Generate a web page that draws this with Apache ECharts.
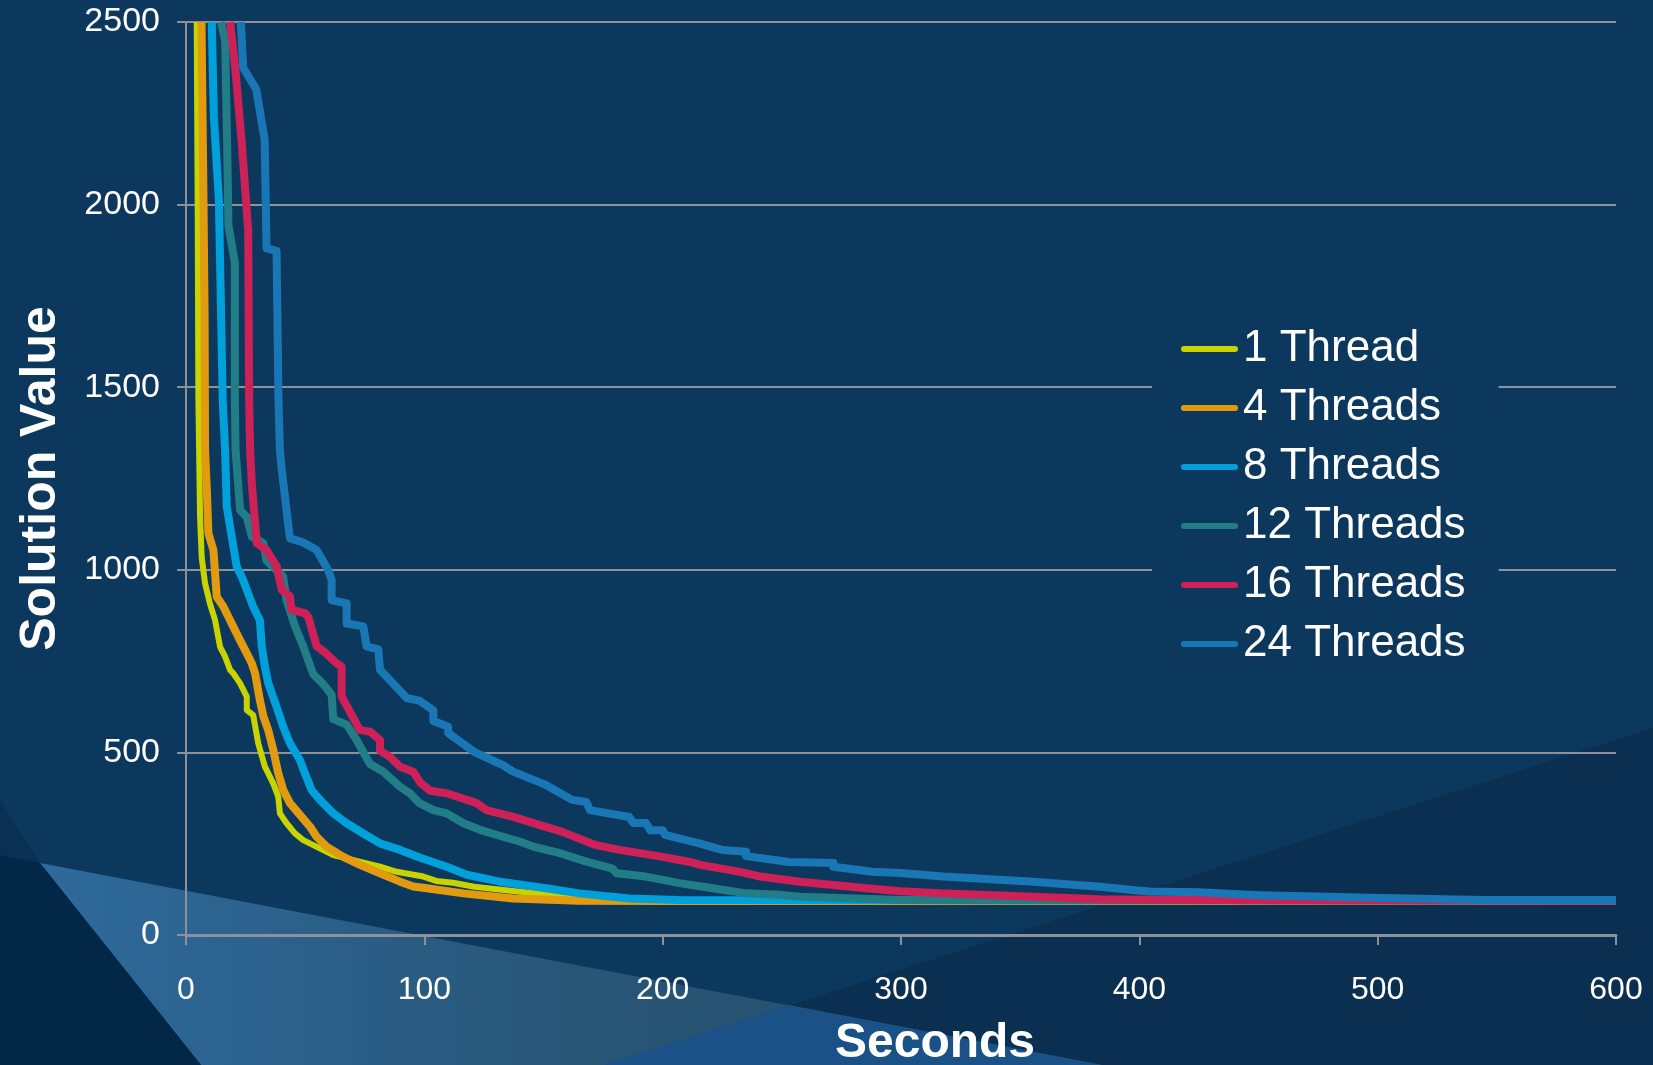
<!DOCTYPE html>
<html>
<head>
<meta charset="utf-8">
<script src="https://cdn.jsdelivr.net/npm/echarts@6/dist/echarts.min.js"></script>
<style>
html,body{margin:0;padding:0;background:#0d385e;}
#chart{width:1653px;height:1065px;}
</style>
</head>
<body>
<div id="chart"></div>
<script>
// ---- data (seconds, solution value) ----
const seriesNames = ['1 Thread', '4 Threads', '8 Threads', '12 Threads', '16 Threads', '24 Threads'];
const xTicks = [0, 100, 200, 300, 400, 500, 600];
const yTicks = [0, 500, 1000, 1500, 2000, 2500];

const thread1 = [[4.5,2500],[4.9,2000],[5.2,1465],[5.9,1145],[6.6,1033],[8,963],[10,908],[12.2,862],[14.3,789],[16.4,762],[18.5,726],[19.9,716],[22.7,689],[25.5,653],[25.5,616],[28.2,602],[30.3,525],[33.1,461],[36.6,415],[38.7,379],[39.4,333],[42.2,306],[45.7,278],[49.2,260],[53.4,246],[61.8,219],[70.2,205],[81.4,187],[88.4,173],[99.6,160],[105,148],[112,143],[121,132],[138,120],[153,110],[165,104],[180,98],[210,95],[600,95]];

const thread4 = [[6.5,2500],[7.2,2100],[7.8,1700],[8,1328],[8.7,1225],[9.4,1100],[11.5,1054],[12.9,926],[15.7,899],[18.5,862],[21.9,817],[25.5,771],[27.6,744],[29,716],[31,643],[32.5,598],[34.5,561],[36.6,507],[38.7,443],[40.8,397],[43.6,361],[47.8,329],[52,297],[54.8,269],[59,242],[66,214],[73,192],[81.4,169],[89.8,146],[95.4,133],[101,128],[116.4,114],[137.3,100],[165,94],[200,93],[600,93]];

const thread8 = [[10.8,2500],[11.7,2240],[13.8,2013],[15.4,1465],[16.4,1328],[17.1,1173],[19.2,1090],[21.3,1008],[23.4,981],[25.5,945],[28.2,899],[31,862],[31.8,790],[33.1,735],[34.5,690],[38,625],[40.8,570],[43.6,525],[47.8,479],[49.9,443],[52.7,397],[56.2,370],[61.8,333],[67.4,306],[74.4,278],[81.4,251],[89.8,233],[98,212],[109.4,187],[117.8,165],[131.7,146],[151,128],[165,114],[186,100],[207,96],[600,95]];

const thread12 = [[14.7,2500],[16.4,2450],[17.3,2150],[17.8,1944],[20.5,1840],[20.5,1465],[20.8,1328],[22.7,1163],[25.5,1145],[27.6,1091],[32.5,1073],[33.8,1025],[40.8,981],[42.2,917],[45.7,846],[49.2,790],[53.4,714],[57.6,687],[61.1,658],[61.8,591],[67.4,576],[71.6,534],[77.2,468],[82.8,447],[89.8,406],[94,388],[98,361],[103.8,342],[109.4,333],[116.4,306],[123.4,288],[133,269],[140,256],[145.7,242],[157,224],[168,201],[179,182],[180.7,169],[193,160],[207,142],[221,128],[235,114],[249,110],[257.6,105],[300,96],[350,95],[600,95]];

const thread16 = [[18.5,2500],[20.6,2378],[23.4,2168],[26.1,1930],[26.5,1465],[26.9,1328],[27.6,1237],[29.7,1073],[33.8,1054],[38,1010],[40.2,945],[43.6,928],[44.3,890],[49.9,881],[51.3,871],[54.8,791],[59,770],[63.2,744],[65.3,735],[65.3,653],[73,561],[77.2,557],[81.4,534],[81.4,505],[85.6,488],[89.8,461],[95.4,447],[98.2,418],[102.4,395],[109.4,388],[122,361],[126,342],[137,324],[148.5,301],[157.6,283],[172,246],[182,233],[200,214],[211.5,200],[215.7,192],[232.5,173],[241,160],[257.6,146],[271.5,137],[285.6,128],[300,120],[316,114],[355.5,105],[383.5,98],[400,97],[450,95],[600,94]];

const thread24 = [[23,2500],[24,2375],[29.5,2315],[33,2177],[33.8,1880],[38,1873],[38.8,1465],[39.4,1328],[40.2,1273],[43.6,1086],[49.2,1075],[54.8,1054],[59.7,999],[61.1,972],[61.1,917],[67.4,908],[67.4,853],[74.4,845],[75.8,790],[80.7,782],[81.4,726],[92.6,649],[98.2,641],[103.8,615],[103.8,586],[110,570],[110,553],[121.3,500],[131,471],[133,465],[137,448],[151,411],[162,370],[168,364],[169.5,342],[186,323],[187.6,307],[193,307],[194.7,287],[200,287],[201,274],[215.7,250],[225,233],[235,228],[235,216],[253,200],[271.6,197],[271.6,187],[288,173],[300,170],[317.7,160],[355.5,146],[383.5,132],[397,123],[404.5,119],[425,117],[446,110],[450.6,109],[502,101],[544,96],[600,96]];

const seriesData = [thread1, thread4, thread8, thread12, thread16, thread24];
const seriesColors = ['#c9d300', '#e29b10', '#00a0da', '#217e87', '#cd2158', '#1a77b6'];
const seriesWidths = [6, 8, 8, 8, 8, 8];

// ---- chart ----
const BG = '#0d385e';
const GRID_COLOR = '#8d9298';
const FONT = '"Liberation Sans", Arial, sans-serif';

const chart = echarts.init(document.getElementById('chart'), null, {renderer: 'canvas'});

const option = {
  backgroundColor: BG,
  animation: false,
  graphic: [
    { type: 'polygon', z: -10, silent: true,
      shape: { points: [[604,1065],[1653,728],[1653,1065]] },
      style: { fill: '#0a2f51' } },
    { type: 'polygon', z: -9, silent: true,
      shape: { points: [[40,863],[201,1065],[1102,1065]] },
      style: { fill: { type: 'linear', x: 40, y: 0, x2: 1102, y2: 0, global: true,
        colorStops: [{offset: 0, color: '#2e6a9c'}, {offset: 0.5, color: '#285677'}, {offset: 1, color: '#274b66'}] } } },
    { type: 'polygon', z: -8, silent: true,
      shape: { points: [[604,1065],[789,1005],[1102,1065]] },
      style: { fill: '#1a5186' } },
    { type: 'polygon', z: -8, silent: true,
      shape: { points: [[0,800],[40,863],[0,855]] },
      style: { fill: '#0a3053' } },
    { type: 'polygon', z: -8, silent: true,
      shape: { points: [[0,855],[40,863],[201,1065],[0,1065]] },
      style: { fill: '#032746' } }
  ],
  grid: { left: 186, top: 22, right: 37, bottom: 130, containLabel: false, outerBoundsMode: 'none' },
  legend: {
    orient: 'vertical',
    left: 1152,
    top: 307,
    padding: [20, 33, 20, 29],
    backgroundColor: BG,
    itemWidth: 57,
    itemHeight: 7,
    itemGap: 15,
    icon: 'path://M3,0 L54,0 A3,3 0 0 1 54,6 L3,6 A3,3 0 0 1 3,0 Z',
    textStyle: { color: '#ffffff', fontSize: 44, fontFamily: FONT },
    data: seriesNames
  },
  xAxis: {
    type: 'value',
    min: xTicks[0],
    max: xTicks[xTicks.length - 1],
    interval: 100,
    name: 'Seconds',
    nameLocation: 'middle',
    nameGap: 85,
    nameTextStyle: { color: '#ffffff', fontSize: 48, fontWeight: 'bold', fontFamily: FONT, padding: [0, 0, 0, 68] },
    axisLine: { show: true, lineStyle: { color: GRID_COLOR, width: 3 } },
    axisTick: { show: true, length: 10, lineStyle: { color: GRID_COLOR, width: 2 } },
    axisLabel: { color: '#ffffff', fontSize: 32, fontFamily: FONT, margin: 39, formatter: v => String(v) },
    splitLine: { show: false }
  },
  yAxis: {
    type: 'value',
    min: yTicks[0],
    max: yTicks[yTicks.length - 1],
    interval: 500,
    name: 'Solution Value',
    nameLocation: 'middle',
    nameGap: 120,
    nameTextStyle: { color: '#ffffff', fontSize: 50, fontWeight: 'bold', fontFamily: FONT },
    axisLine: { show: true, lineStyle: { color: GRID_COLOR, width: 2 } },
    axisTick: { show: true, length: 9, lineStyle: { color: GRID_COLOR, width: 2 } },
    axisLabel: { color: '#ffffff', fontSize: 34, fontFamily: FONT, margin: 26, formatter: v => String(v) },
    splitLine: { show: true, lineStyle: { color: GRID_COLOR, width: 2 } }
  },
  series: seriesNames.map((name, i) => ({
    name: name,
    type: 'line',
    data: seriesData[i],
    showSymbol: false,
    symbol: 'none',
    clip: true,
    color: seriesColors[i],
    lineStyle: { color: seriesColors[i], width: seriesWidths[i], join: 'round' },
    emphasis: { disabled: true }
  }))
};

chart.setOption(option);
</script>
</body>
</html>
